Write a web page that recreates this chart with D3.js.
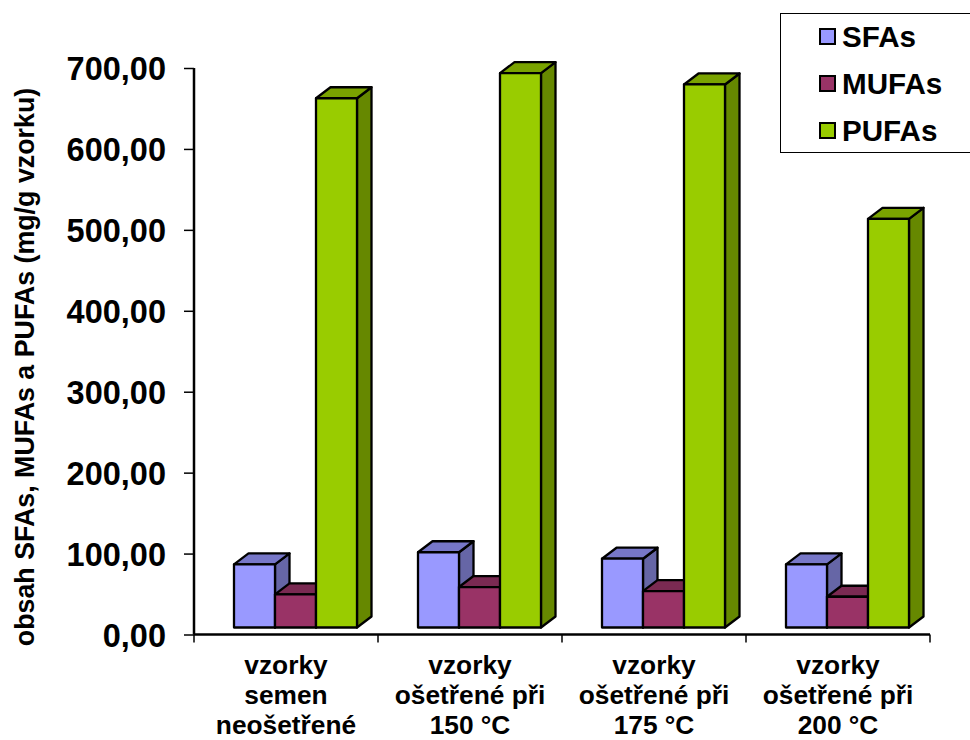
<!DOCTYPE html>
<html>
<head>
<meta charset="utf-8">
<script src="https://cdn.jsdelivr.net/npm/d3@7/dist/d3.min.js"></script>
<style>
html,body{margin:0;padding:0;background:#fff}
svg{display:block}
text{font-family:"Liberation Sans",Arial,sans-serif;font-weight:bold;fill:#000}
</style>
</head>
<body>
<svg id="chart" width="970" height="740"></svg>
<script>
const groupLabels = [
  ["vzorky", "semen", "neošetřené"],
  ["vzorky", "ošetřené při", "150 °C"],
  ["vzorky", "ošetřené při", "175 °C"],
  ["vzorky", "ošetřené při", "200 °C"]
];
const groupKeys = ["a", "b", "c", "d"];
const seriesNames = ["SFAs", "MUFAs", "PUFAs"];
const seriesColors = ["#9999ff", "#993366", "#99cc00"];
const sideColors = ["#6666a6", "#662244", "#668800"];
const topColors = ["#7777c8", "#7a2a52", "#7aa300"];
const sfas = [78, 93, 85, 78];
const mufas = [41, 50, 45, 38];
const pufas = [654, 685, 671, 505];
const seriesValues = [sfas, mufas, pufas];
const yTicks = [0, 100, 200, 300, 400, 500, 600, 700];
const yTitle = "obsah SFAs, MUFAs a PUFAs (mg/g vzorku)";

const svg = d3.select("#chart");
const x0 = 194, x1 = 930, yBase = 634.5, yTop = 68;
const depthX = 14.5, depthY = 11, floorLift = 7;

const y = d3.scaleLinear().domain([0, 700]).range([yBase, yTop]);
const xGroup = d3.scaleBand().domain(groupKeys).range([x0, x1]);
const xBar = d3.scaleBand().domain(seriesNames).range([40, 163]);
const fmt = v => d3.format(".2f")(v).replace(".", ",");

// Each 3D column: front face, side and top, drawn series by series so later columns overlap earlier ones
const bars = svg.append("g").attr("stroke", "#000").attr("stroke-width", 2.3).attr("stroke-linejoin", "round");
groupKeys.forEach((g, gi) => {
  seriesNames.forEach((s, si) => {
    const left = xGroup(g) + xBar(s);
    const w = xBar.bandwidth();
    const top = y(seriesValues[si][gi]) - floorLift;
    const bottom = y(0) - floorLift;
    const p = pts => pts.map(d => d.join(",")).join(" ");
    bars.append("polygon")
      .attr("points", p([[left + w, top], [left + w + depthX, top - depthY], [left + w + depthX, bottom - depthY], [left + w, bottom]]))
      .attr("fill", sideColors[si]);
    bars.append("polygon")
      .attr("points", p([[left, top], [left + depthX, top - depthY], [left + w + depthX, top - depthY], [left + w, top]]))
      .attr("fill", topColors[si]);
    bars.append("rect")
      .attr("x", left).attr("y", top).attr("width", w).attr("height", bottom - top)
      .attr("fill", seriesColors[si]);
  });
});

// Value axis
const yAxis = svg.append("g").attr("transform", `translate(${x0},0)`)
  .call(d3.axisLeft(y).tickValues(yTicks).tickFormat(fmt).tickSize(10).tickPadding(18));
yAxis.selectAll("text").attr("font-size", 32.5).attr("dy", "0.36em").style("font-family", '"Liberation Sans",Arial,sans-serif').style("font-weight", "bold");
yAxis.selectAll(".tick line").attr("stroke", "#000").attr("stroke-width", 1.5);
yAxis.select(".domain").attr("stroke", "#000").attr("stroke-width", 2.5).attr("d", `M0,${yTop}V${yBase}`);

// Category axis with tick marks at the group boundaries
const xAxis = svg.append("g").attr("transform", `translate(0,${yBase})`);
xAxis.append("line").attr("x1", x0).attr("x2", x1).attr("stroke", "#000").attr("stroke-width", 2.5);
xAxis.selectAll("line.boundary")
  .data(groupKeys.map(g => xGroup(g)).concat([x1]))
  .join("line").attr("class", "boundary")
  .attr("x1", d => d).attr("x2", d => d).attr("y1", 0).attr("y2", 8)
  .attr("stroke", "#000").attr("stroke-width", 1.5);

groupKeys.forEach((g, gi) => {
  const t = svg.append("text").attr("text-anchor", "middle").attr("font-size", 26.3);
  groupLabels[gi].forEach((line, li) => {
    t.append("tspan").attr("x", xGroup(g) + xGroup.bandwidth() / 2).attr("y", 674 + li * 30).text(line);
  });
});

svg.append("text")
  .attr("transform", "translate(34,367) rotate(-90)")
  .attr("text-anchor", "middle").attr("font-size", 26.8)
  .text(yTitle);

// Legend box in the top right corner
svg.append("rect").attr("x", 780.5).attr("y", 13.5).attr("width", 200).attr("height", 139)
  .attr("fill", "#fff").attr("stroke", "#000").attr("stroke-width", 1);
const legend = svg.selectAll("g.key").data(seriesNames).join("g").attr("class", "key")
  .attr("transform", (d, i) => `translate(0,${37 + i * 47})`);
legend.append("rect").attr("x", 820).attr("y", -8).attr("width", 15).attr("height", 15)
  .attr("fill", (d, i) => seriesColors[i]).attr("stroke", "#000").attr("stroke-width", 2);
legend.append("text").attr("x", 842).attr("y", 10).attr("font-size", 29.6).text(d => d);
</script>
</body>
</html>
